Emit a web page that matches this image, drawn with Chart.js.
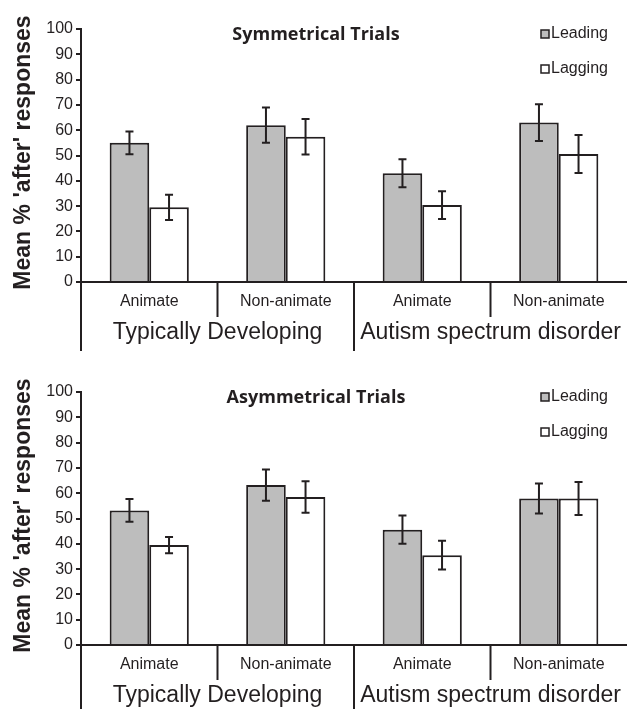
<!DOCTYPE html>
<html>
<head>
<meta charset="utf-8">
<script src="https://cdn.jsdelivr.net/npm/chart.js@4.4.0/dist/chart.umd.min.js"></script>
<style>
  html, body { margin: 0; padding: 0; background: #fff; }
  #wrap { position: relative; width: 627px; height: 709px; overflow: hidden; }
  canvas { position: absolute; left: 0; }
</style>
</head>
<body>
<div id="wrap">
  <canvas id="symChart" width="627" height="354" style="top:0"></canvas>
  <canvas id="asymChart" width="627" height="346" style="top:363px"></canvas>
</div>
<script>
// data
const conditions = ['Animate', 'Non-animate', 'Animate', 'Non-animate'];
const groups = ['Typically Developing', 'Autism spectrum disorder'];
const seriesNames = ['Leading', 'Lagging'];
const yLabel = "Mean % 'after' responses";

const symLeading = [55, 62, 43, 63];
const symLeadingErr = [4.5, 7, 5.5, 7.3];
const symLagging = [29.5, 57.4, 30.4, 50.6];
const symLaggingErr = [5, 7, 5.5, 7.5];

const asymLeading = [53.2, 63.2, 45.6, 57.9];
const asymLeadingErr = [4.5, 6.2, 5.6, 5.9];
const asymLagging = [39.5, 58.5, 35.5, 57.9];
const asymLaggingErr = [3.2, 6.2, 5.7, 6.5];

const INK = '#231f20';
const GREY = '#bdbdbd';
const SANS = "'Liberation Sans', Arial, sans-serif";

const decor = {
  id: 'decor',
  afterDatasetsDraw(chart) {
    const ctx = chart.ctx, y = chart.scales.y;
    ctx.save();
    ctx.strokeStyle = INK;
    ctx.lineWidth = 2;
    chart.data.datasets.forEach((ds, i) => {
      chart.getDatasetMeta(i).data.forEach((bar, j) => {
        const v = ds.data[j], e = ds.err[j];
        const t = y.getPixelForValue(v + e), b = y.getPixelForValue(v - e);
        ctx.beginPath();
        ctx.moveTo(bar.x, t); ctx.lineTo(bar.x, b);
        ctx.moveTo(bar.x - 4, t); ctx.lineTo(bar.x + 4, t);
        ctx.moveTo(bar.x - 4, b); ctx.lineTo(bar.x + 4, b);
        ctx.stroke();
      });
    });
    ctx.restore();
  },
  afterDraw(chart, args, opts) {
    const ctx = chart.ctx, a = chart.chartArea, x = chart.scales.x;
    const n = conditions.length;
    const step = (a.right - a.left) / n;
    ctx.save();
    ctx.strokeStyle = INK;
    ctx.fillStyle = INK;
    ctx.lineWidth = 2;
    // x axis line
    ctx.beginPath();
    ctx.moveTo(a.left - 5, a.bottom); ctx.lineTo(a.right, a.bottom);
    ctx.moveTo(a.left, a.bottom); ctx.lineTo(a.left, a.bottom + 69);
    ctx.stroke();
    // separators
    for (let k = 1; k < n; k++) {
      const sx = a.left + step * k;
      const long = k % 2 === 0;
      ctx.beginPath();
      ctx.moveTo(sx, a.bottom);
      ctx.lineTo(sx, a.bottom + (long ? 69 : 35));
      ctx.stroke();
    }
    // condition labels
    ctx.textAlign = 'center';
    ctx.textBaseline = 'middle';
    ctx.font = '16px ' + SANS;
    conditions.forEach((c, k) => ctx.fillText(c, x.getPixelForValue(k), a.bottom + 20));
    ctx.font = '23px ' + SANS;
    groups.forEach((g, k) => ctx.fillText(g, a.left + step * (2 * k + 1), a.bottom + 51));
    // y title
    ctx.save();
    ctx.translate(24, (a.top + a.bottom) / 2 - 3);
    ctx.rotate(-Math.PI / 2);
    ctx.font = 'bold 23px ' + SANS;
    ctx.fillText(yLabel, 0, 0);
    ctx.restore();
    // chart title
    ctx.font = "bold 18px 'Open Sans', sans-serif";
    ctx.fillText(opts.title, 316, 35);
    // legend
    ctx.textAlign = 'left';
    ctx.font = '16px ' + SANS;
    chart.data.datasets.forEach((ds, i) => {
      const cy = 34 + i * 35;
      ctx.fillStyle = ds.backgroundColor;
      ctx.fillRect(541, cy - 4, 8, 8);
      ctx.lineWidth = 1.5;
      ctx.strokeRect(541, cy - 4, 8, 8);
      ctx.fillStyle = INK;
      ctx.fillText(ds.label, 551, cy);
    });
    ctx.restore();
  }
};

function makeChart(id, title, lead, leadErr, lag, lagErr, padBottom) {
  return new Chart(document.getElementById(id), {
    type: 'bar',
    data: {
      labels: conditions,
      datasets: [
        { label: seriesNames[0], data: lead, err: leadErr, backgroundColor: GREY, borderColor: INK, borderWidth: 2 },
        { label: seriesNames[1], data: lag, err: lagErr, backgroundColor: '#ffffff', borderColor: INK, borderWidth: 2 }
      ]
    },
    options: {
      responsive: false,
      animation: false,
      layout: { padding: { top: 29, bottom: padBottom, left: 0, right: 0 } },
      categoryPercentage: 0.58,
      barPercentage: 1.0,
      plugins: { legend: { display: false }, tooltip: { enabled: false }, decor: { title: title } },
      scales: {
        x: { display: false },
        y: {
          min: 0, max: 100,
          ticks: { stepSize: 10, padding: 3, color: INK, font: { family: SANS, size: 16 } },
          grid: { drawOnChartArea: false, drawTicks: true, tickLength: 5, color: INK, lineWidth: 2 },
          border: { display: true, color: INK, width: 2 },
          afterFit(s) { s.width = 81; s.paddingTop = 0; s.paddingBottom = 0; }
        }
      }
    },
    plugins: [decor]
  });
}

makeChart('symChart', 'Symmetrical Trials', symLeading, symLeadingErr, symLagging, symLaggingErr, 72);
makeChart('asymChart', 'Asymmetrical Trials', asymLeading, asymLeadingErr, asymLagging, asymLaggingErr, 64);
</script>
</body>
</html>
